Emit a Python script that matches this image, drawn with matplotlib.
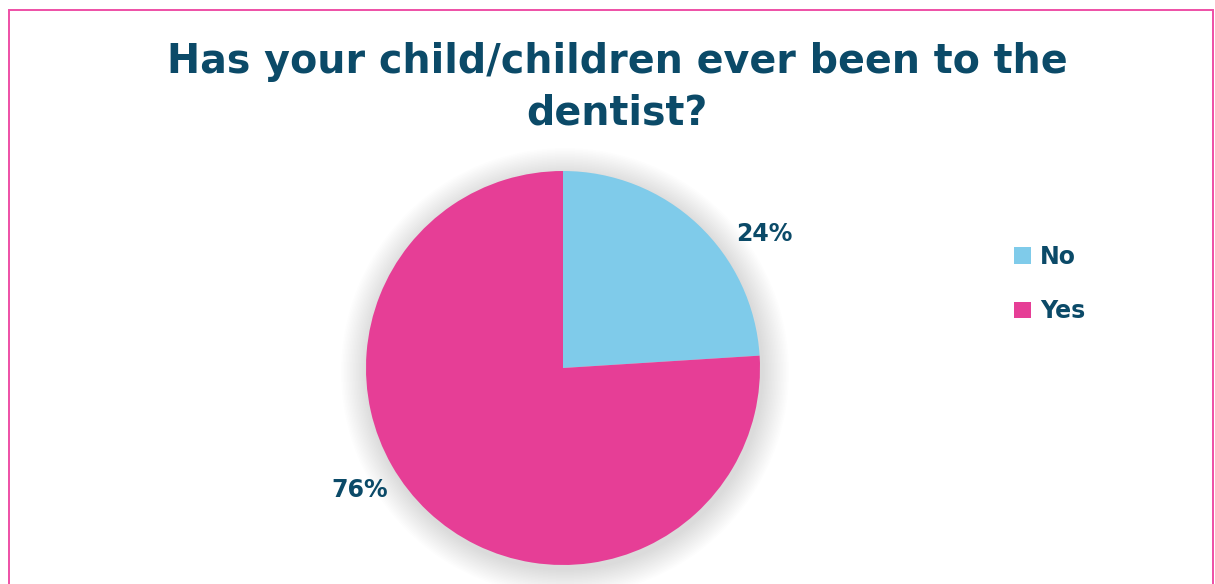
import matplotlib.pyplot as plt
from matplotlib.patches import Circle, Rectangle
import numpy as np

labels = ['No', 'Yes']
shares = [24, 76]
colors = ['#7FCBEA', '#E63E96']
text_color = '#0B4A68'

fig = plt.figure(figsize=(12.15, 5.84), dpi=100)
fig.patch.set_facecolor('white')

# pink frame round the chart area
fig.patches.append(Rectangle((9 / 1215, -0.05), 1204 / 1215, (584 - 10) / 584 + 0.05,
                             transform=fig.transFigure, fill=False,
                             edgecolor='#EE4FA6', linewidth=1.4))

ax = fig.add_axes([0, 0, 1, 1])
ax.set_xlim(0, 1215)
ax.set_ylim(0, 584)
ax.set_aspect('equal')
ax.axis('off')

cx, cy, r = 563, 584 - 368, 197

# soft drop shadow behind the pie
for k in range(18, 0, -1):
    ax.add_patch(Circle((cx + 2, cy - 4), r + k * 1.5, color='black',
                        alpha=0.006, linewidth=0, zorder=1))

wedges, _ = ax.pie(shares, colors=colors, startangle=90, counterclock=False,
                   center=(cx, cy), radius=r, frame=True,
                   wedgeprops=dict(linewidth=0, zorder=2))
ax.set_xlim(0, 1215)
ax.set_ylim(0, 584)
ax.axis('off')

label_offsets = [(1.02, 0.68), (-1.03, -0.62)]
for val, (ox, oy) in zip(shares, label_offsets):
    ax.text(cx + ox * r, cy + oy * r, f'{val}%', ha='center', va='center',
            fontsize=17, fontweight='bold', color=text_color, zorder=3)

fig.text(617 / 1215, 1 - 88 / 584, 'Has your child/children ever been to the\ndentist?',
         ha='center', va='center', fontsize=28.5, fontweight='bold',
         color=text_color, linespacing=1.38)

leg = fig.legend(wedges, labels, loc='center left',
                 bbox_to_anchor=(993 / 1215, 1 - 284 / 584), frameon=False,
                 handlelength=0.7, handleheight=0.7, handletextpad=0.4,
                 labelspacing=1.3, prop=dict(size=17, weight='bold'))
for t in leg.get_texts():
    t.set_color(text_color)

fig.savefig('out.png', dpi=100)
